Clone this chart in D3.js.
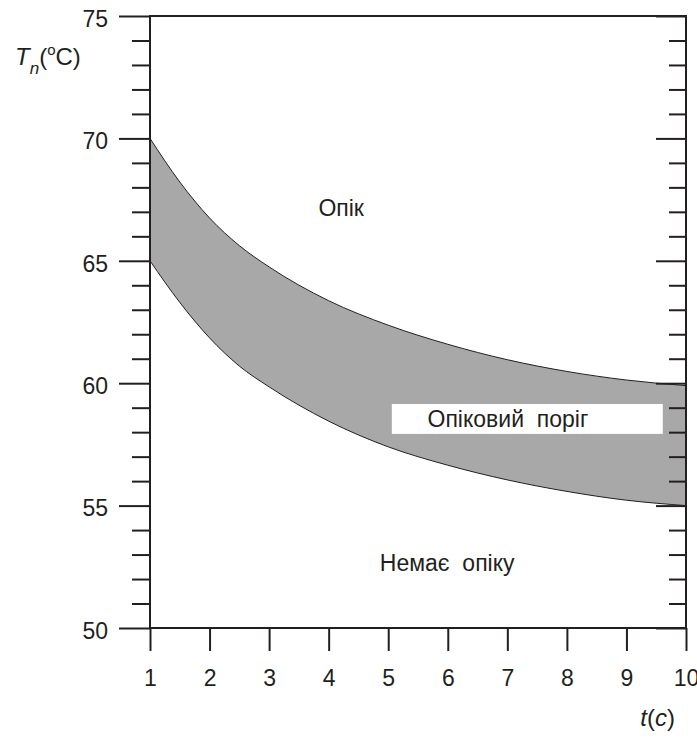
<!DOCTYPE html>
<html>
<head>
<meta charset="utf-8">
<script src="https://cdn.jsdelivr.net/npm/d3@7"></script>
<style>
body { margin: 0; background: #fff; }
svg text { font-family: "Liberation Sans", Arial, sans-serif; fill: #231f20; }
</style>
</head>
<body>
<script>
// time, s
var tValues = [1, 1.5, 2, 2.5, 3, 4, 5, 6, 7, 8, 9, 10];
// upper edge of burn threshold band (T, C)
var upperT = [70, 68.22, 66.75, 65.62, 64.75, 63.37, 62.37, 61.59, 60.96, 60.48, 60.13, 59.9];
// lower edge
var lowerT = [65, 63.3, 61.85, 60.7, 59.85, 58.45, 57.4, 56.65, 56.05, 55.58, 55.22, 55.0];

var xTicks = [1, 2, 3, 4, 5, 6, 7, 8, 9, 10];
var yMajor = [50, 55, 60, 65, 70, 75];
var yMinor = d3.range(50, 76, 1).filter(function(v) { return v % 5 != 0; });

var width = 697, height = 738;
// note: "top" is taken by window.top, so use other names
var padL = 150, padR = 686, padT = 16, padB = 628;
var ink = "#231f20";

var svg = d3.select("body").append("svg").attr("width", width).attr("height", height);

var x = d3.scaleLinear().domain([1, 10]).range([padL, padR]);
var y = d3.scaleLinear().domain([50, 75]).range([padB, padT]);

var band = [];
for (var i = 0; i < tValues.length; i++) {
    band.push({t: tValues[i], hi: upperT[i], lo: lowerT[i]});
}

// monotoneX weights by x spacing, so the uneven grid stays smooth
var smooth = d3.curveMonotoneX;

// gray band
var area = d3.area()
    .x(function(d) { return x(d.t); })
    .y0(function(d) { return y(d.lo); })
    .y1(function(d) { return y(d.hi); })
    .curve(smooth);
svg.append("path").datum(band).attr("d", area).attr("fill", "#a8a8a8");

var lineHi = d3.line().x(function(d) { return x(d.t); }).y(function(d) { return y(d.hi); }).curve(smooth);
var lineLo = d3.line().x(function(d) { return x(d.t); }).y(function(d) { return y(d.lo); }).curve(smooth);
svg.append("path").datum(band).attr("d", lineHi).attr("fill", "none").attr("stroke", ink).attr("stroke-width", 1);
svg.append("path").datum(band).attr("d", lineLo).attr("fill", "none").attr("stroke", ink).attr("stroke-width", 1);

// label box in the band
svg.append("rect")
    .attr("x", x(5.06)).attr("y", y(59.15))
    .attr("width", x(9.61) - x(5.06)).attr("height", y(57.93) - y(59.15))
    .attr("fill", "#fff");

function styleAxis(g) {
    g.select(".domain").remove();
    g.selectAll("line").attr("stroke", ink).attr("stroke-width", 2);
    g.selectAll("text").attr("font-size", 23).attr("fill", ink);
}

// left axis, major + minor
svg.append("g").attr("transform", "translate(" + padL + ",0)")
    .call(d3.axisLeft(y).tickValues(yMajor).tickSize(31).tickPadding(11).tickFormat(d3.format("d")))
    .call(styleAxis)
    .selectAll("text").attr("dy", "0.45em");
svg.append("g").attr("transform", "translate(" + padL + ",0)")
    .call(d3.axisLeft(y).tickValues(yMinor).tickSize(18).tickFormat(""))
    .call(styleAxis);

// right axis, ticks inside
svg.append("g").attr("transform", "translate(" + padR + ",0)")
    .call(d3.axisRight(y).tickValues(yMajor).tickSize(-30).tickFormat(""))
    .call(styleAxis);
svg.append("g").attr("transform", "translate(" + padR + ",0)")
    .call(d3.axisRight(y).tickValues(yMinor).tickSize(-17).tickFormat(""))
    .call(styleAxis);

// bottom axis
svg.append("g").attr("transform", "translate(0," + padB + ")")
    .call(d3.axisBottom(x).tickValues(xTicks).tickSize(23).tickPadding(19).tickFormat(d3.format("d")))
    .call(styleAxis);

// frame
svg.append("rect")
    .attr("x", padL).attr("y", padT)
    .attr("width", padR - padL).attr("height", padB - padT)
    .attr("fill", "none").attr("stroke", ink).attr("stroke-width", 2);

// region labels
svg.append("text").attr("x", x(4.21)).attr("y", y(67.16)).attr("dy", "0.35em")
    .attr("text-anchor", "middle").attr("font-size", 23).text("Опік");
svg.append("text").attr("x", x(7.01)).attr("y", y(58.54)).attr("dy", "0.35em")
    .attr("text-anchor", "middle").attr("font-size", 23).attr("xml:space", "preserve").text("Опіковий  поріг");
svg.append("text").attr("x", x(5.99)).attr("y", y(52.65)).attr("dy", "0.35em")
    .attr("text-anchor", "middle").attr("font-size", 23).attr("xml:space", "preserve").text("Немає  опіку");

// axis titles
var yt = svg.append("text").attr("x", 15).attr("y", 65).attr("font-size", 24);
yt.append("tspan").attr("font-style", "italic").text("T");
yt.append("tspan").attr("font-style", "italic").attr("font-size", 17).attr("dy", 9).text("n");
yt.append("tspan").attr("dy", -9).text("(");
yt.append("tspan").attr("font-size", 15).attr("dy", -10).text("o");
yt.append("tspan").attr("dy", 10).text("C)");

var xt = svg.append("text").attr("x", 675).attr("y", 726).attr("text-anchor", "end").attr("font-size", 24);
xt.append("tspan").attr("font-style", "italic").text("t");
xt.append("tspan").text("(");
xt.append("tspan").attr("font-style", "italic").text("c");
xt.append("tspan").text(")");
</script>
</body>
</html>
